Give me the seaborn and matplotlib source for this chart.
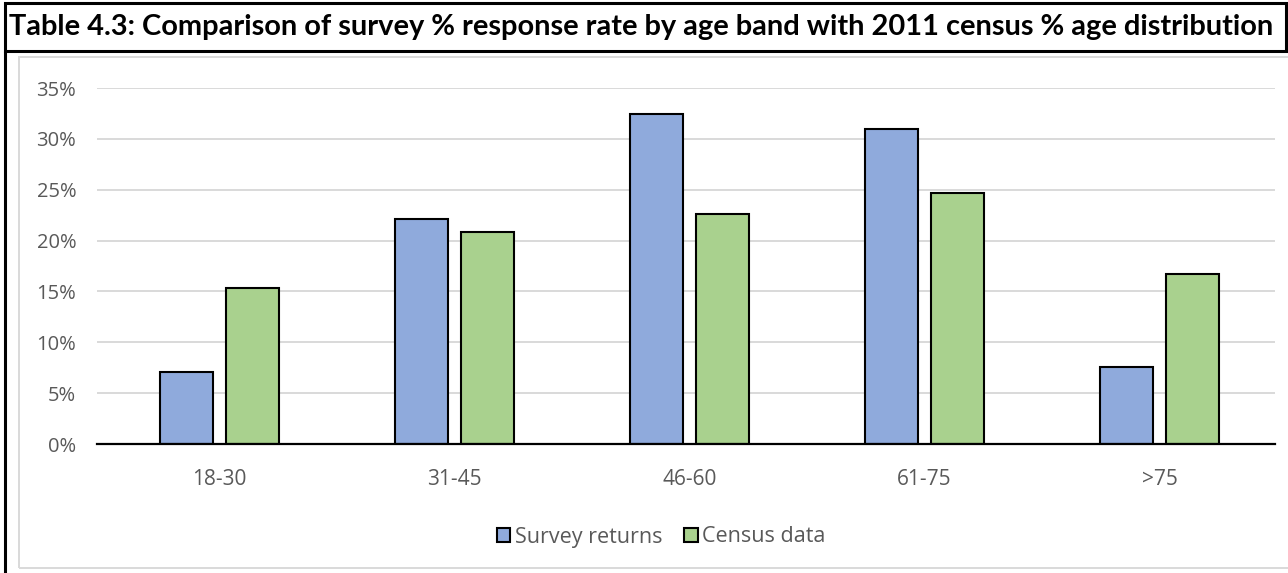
import matplotlib
matplotlib.use("Agg")
import matplotlib.pyplot as plt
import seaborn as sns
import pandas as pd
from matplotlib.patches import Rectangle, Patch
from matplotlib.lines import Line2D
from matplotlib.ticker import PercentFormatter

# Data
age_bands = ["18-30", "31-45", "46-60", "61-75", ">75"]
survey_returns = [7.1, 22.1, 32.4, 31.0, 7.6]
census_data = [15.3, 20.8, 22.6, 24.7, 16.7]
series_names = ["Survey returns", "Census data"]
title_text = "Table 4.3: Comparison of survey % response rate by age band with 2011 census % age distribution"

df = pd.DataFrame({
    "Age band": age_bands * 2,
    "Percent": survey_returns + census_data,
    "Series": [series_names[0]] * len(age_bands) + [series_names[1]] * len(age_bands),
})

sns.set_theme(style="white")
plt.rcParams["font.family"] = ["Open Sans", "DejaVu Sans"]

W, H = 1288, 573
fig = plt.figure(figsize=(W / 100, H / 100), dpi=100)

def fx(px):
    return px / W

def fy(py):
    return 1 - py / H

ax = fig.add_axes([fx(97), fy(444), fx(1275) - fx(97), fy(88) - fy(444)])

palette = {series_names[0]: "#8FAADC", series_names[1]: "#A9D18E"}
sns.barplot(data=df, x="Age band", y="Percent", hue="Series", palette=palette,
            order=age_bands, hue_order=series_names, width=0.563, gap=0.197,
            edgecolor="black", linewidth=1.5, saturation=1, legend=False, ax=ax)

ax.set_ylim(0, 35)
ax.set_xlim(-0.52, 4.49)
ax.set_yticks(range(0, 36, 5))
ax.yaxis.set_major_formatter(PercentFormatter(decimals=0))
ax.grid(axis="y", color="#D9D9D9", linewidth=1.4)
ax.set_axisbelow(True)
for s in ["left", "right", "top"]:
    ax.spines[s].set_visible(False)
ax.spines["bottom"].set_color("black")
ax.spines["bottom"].set_linewidth(1.6)
ax.spines["bottom"].set_zorder(5)
ax.set_xlabel("")
ax.set_ylabel("")
ax.tick_params(axis="y", length=0, pad=15, labelsize=14.5, labelcolor="#595959")
ax.tick_params(axis="x", length=0, pad=18, labelsize=15, labelcolor="#595959")

# Title cell and chart frame
fig.patches.append(Rectangle((fx(5), fy(51)), fx(1286) - fx(5), fy(3) - fy(51),
                             transform=fig.transFigure, fill=False,
                             edgecolor="black", linewidth=2.2, zorder=10))
fig.lines.append(Line2D([fx(5), fx(5)], [fy(51), 0], transform=fig.transFigure,
                        color="black", linewidth=2.2))
fig.patches.append(Rectangle((fx(19), fy(568)), fx(1300) - fx(19), fy(57) - fy(568),
                             transform=fig.transFigure, fill=False,
                             edgecolor="#D9D9D9", linewidth=1.4))

title = fig.text(fx(9), fy(27), title_text, ha="left", va="center",
                 fontweight="bold", fontsize=18, color="black", family=["Lato", "DejaVu Sans"])
fig.canvas.draw()
bb = title.get_window_extent(fig.canvas.get_renderer())
title.set_fontsize(18 * 1268 / bb.width)

handles = [Patch(facecolor=palette[n], edgecolor="black", linewidth=1.5, label=n)
           for n in series_names]
fig.legend(handles=handles, loc="center", bbox_to_anchor=(fx(661), fy(537)), ncol=2,
           frameon=False, fontsize=15.5, labelcolor="#595959", handlelength=0.65,
           handleheight=0.65, handletextpad=0.2, columnspacing=1.0)

fig.savefig("out.png", dpi=100)
